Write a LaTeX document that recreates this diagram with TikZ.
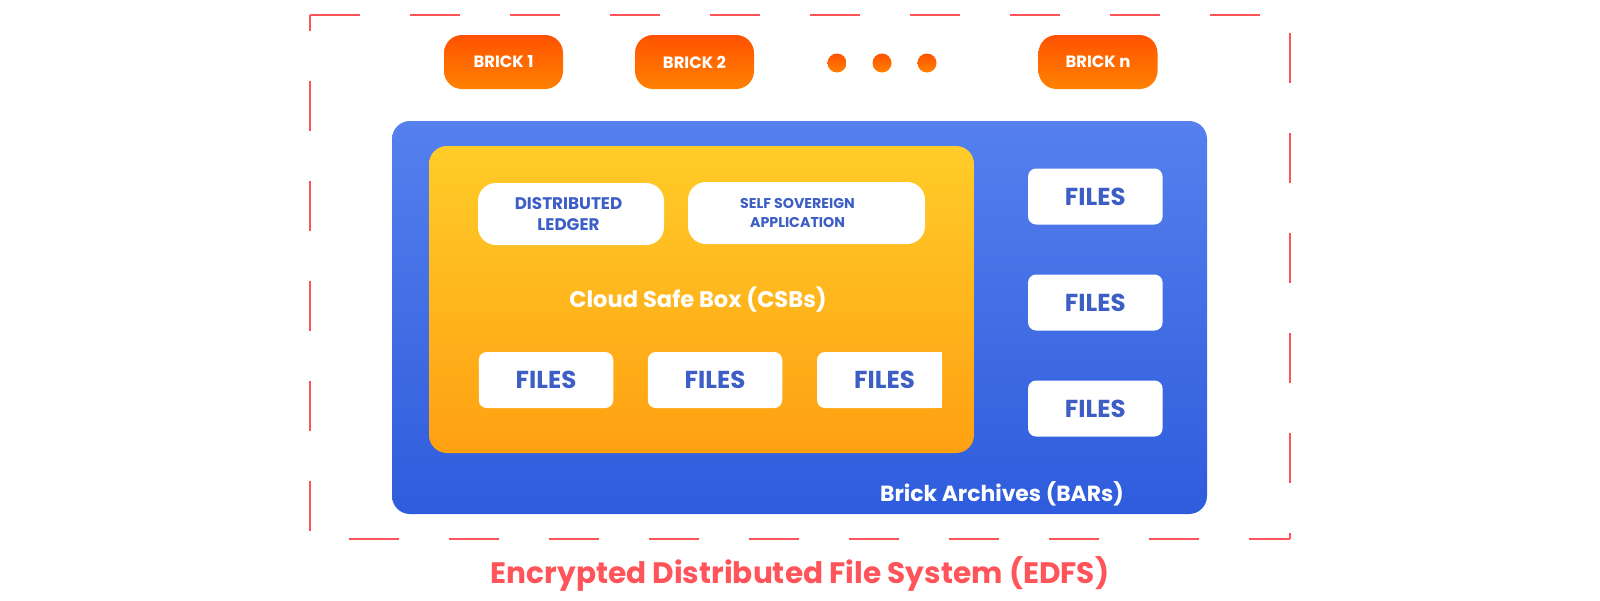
\documentclass[tikz,border=0pt]{standalone}
\usepackage{fontspec}
\setmainfont{Poppins}
\definecolor{brickTop}{HTML}{FF5200}
\definecolor{brickBot}{HTML}{FF8200}
\definecolor{blueTop}{HTML}{5580EE}
\definecolor{blueBot}{HTML}{2E5CDC}
\definecolor{yellowTop}{HTML}{FFCC29}
\definecolor{yellowBot}{HTML}{FFA011}
\definecolor{txtblue}{HTML}{3C5EC5}
\definecolor{framered}{HTML}{FF5459}
\newcommand\fsz[2]{\fontsize{#1}{#2}\selectfont}
\begin{document}
\begin{tikzpicture}[x=1pt,y=-1pt,
  brickbox/.style={rounded corners=18pt, top color=brickTop, bottom color=brickBot,
    minimum width=119pt, minimum height=54pt, inner sep=0pt, text=white,
    font=\bfseries\fsz{16.4}{16.4}},
  dotshape/.style={circle, minimum size=19pt, inner sep=0pt, top color=brickTop, bottom color=brickBot},
  pillbox/.style={fill=white, rounded corners=18pt, minimum height=62pt, inner sep=0pt,
    text=txtblue, align=center},
  filebox/.style={fill=white, rounded corners=8pt, minimum width=134.5pt, minimum height=56pt,
    inner sep=0pt, text=txtblue, font=\bfseries\fsz{24.5}{24.5}},
  frame/.style={draw=framered, line width=2pt, dash pattern=on 50pt off 50pt},
  whitelabel/.style={text=white, font=\bfseries\fsz{22.6}{22.6}, inner sep=0pt}
]
\useasboundingbox (0,0) rectangle (1600,600);

% dashed frame
\coordinate (ftl) at (310,15);
\coordinate (ftr) at (1290,15);
\coordinate (fbr) at (1290,539);
\coordinate (fbl) at (310,539);
\draw[frame, dash phase=0pt] (ftl) -- (ftr);
\draw[frame, dash phase=82pt] (ftr) -- (fbr);
\draw[frame, dash phase=9pt] (fbr) -- (fbl);
\draw[frame, dash phase=92pt] (fbl) -- (ftl);

% bricks
\node[brickbox] (b1) at (503.5,62) {BRICK 1};
\node[brickbox] (b2) at (694.5,62) {BRICK 2};
\node[brickbox] (bn) at (1098,62) {BRICK n};
\node[dotshape] (d1) at (837,63) {};
\node[dotshape] (d2) at (882,63) {};
\node[dotshape] (d3) at (927,63) {};

% brick archives
\node[rounded corners=18pt, top color=blueTop, bottom color=blueBot,
  minimum width=815pt, minimum height=393pt, inner sep=0pt] (bars) at (799.5,317.5) {};
% cloud safe box
\node[rounded corners=18pt, top color=yellowTop, bottom color=yellowBot,
  minimum width=545pt, minimum height=307pt, inner sep=0pt] (csb) at (701.5,299.5) {};

\node[pillbox, minimum width=186pt, font=\bfseries\fsz{16.8}{21.3}] (dl) at (571,214)
  {DISTRIBUTED\hspace*{5pt}\\LEDGER\hspace*{5pt}};
\node[pillbox, minimum width=237pt, font=\bfseries\fsz{14.2}{18.7}] (ssa) at (806.5,213)
  {SELF SOVEREIGN\hspace*{18pt}\\APPLICATION\hspace*{18pt}};

\node[whitelabel] (csblabel) at (698,300) {Cloud Safe Box (CSBs)};

\node[filebox] (f1) at (546,380) {FILES};
\node[filebox] (f2) at (715,380) {FILES};
\node[filebox, minimum width=125pt] (f3) at (879.5,380) {\hspace*{10pt}FILES};
\fill[white] ([xshift=-10pt]f3.north east) rectangle (f3.south east);

\node[filebox] (r1) at (1095.3,196.5) {FILES};
\node[filebox] (r2) at (1095.3,302.5) {FILES};
\node[filebox] (r3) at (1095.3,408.5) {FILES};

\node[whitelabel, font=\bfseries\fsz{21.9}{21.9}, anchor=base east] (barslabel) at (1124,501) {Brick Archives (BARs)};

\node[text=framered, font=\bfseries\fsz{29.6}{29.6}, anchor=base, inner sep=0pt] (edfs) at (800,583)
  {Encrypted Distributed File System (EDFS)};
\end{tikzpicture}
\end{document}
